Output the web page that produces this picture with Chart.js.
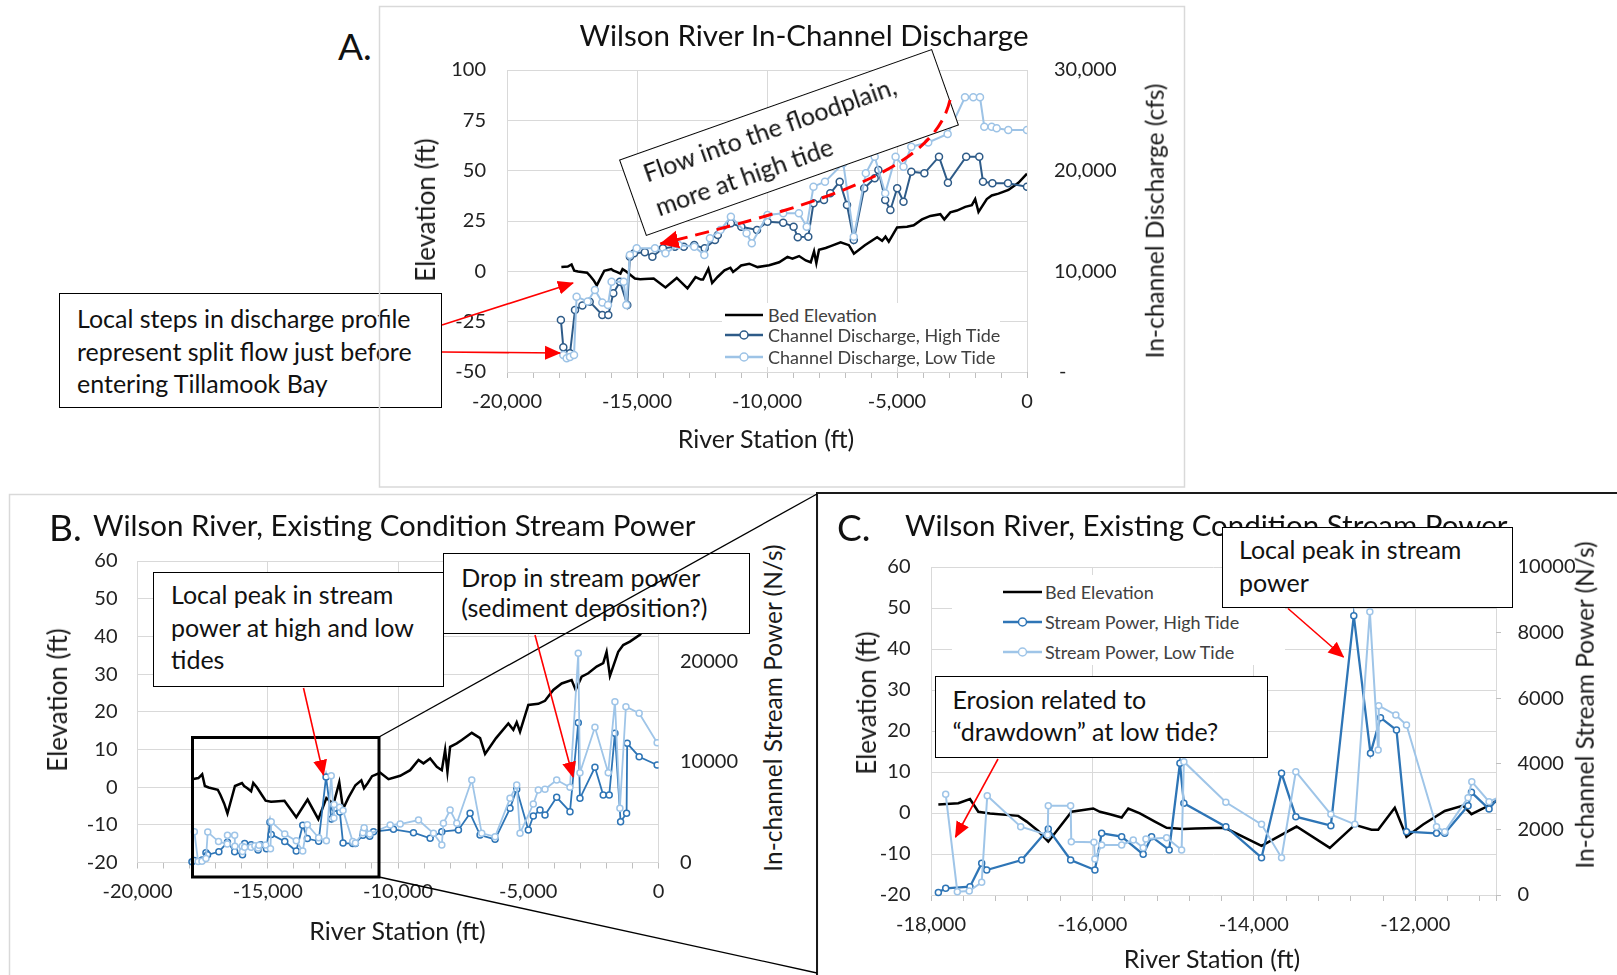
<!DOCTYPE html>
<html>
<head>
<meta charset="utf-8">
<script src="https://cdn.jsdelivr.net/npm/chart.js@4.4.1/dist/chart.umd.min.js"></script>
<style>
  html, body { margin: 0; padding: 0; background: #fff; }
  body { width: 1617px; height: 975px; position: relative; overflow: hidden; font-family: Lato, 'Open Sans', sans-serif; color: #111; }
  canvas.plot { position: absolute; z-index: 1; }
  .t { position: absolute; white-space: nowrap; line-height: 1; z-index: 2; }
  .c { transform: translateX(-50%); }
  .m { transform: translate(-50%, -50%); }
  .r { transform: translate(-50%, -50%) rotate(-90deg); }
  .ax { color: #1a1a1a; }
  .axl { font-size: 26px; }
  .axr { font-size: 24.5px; }
  .axb { font-size: 25px; }
  .ttl { font-size: 29.5px; }
  .box { position: absolute; box-sizing: border-box; background: #fff; border: 1.5px solid #000; font-size: 25px; white-space: nowrap; z-index: 2; color: #111; }
  .lgbg { position: absolute; background: #fff; z-index: 2; }
  .lg { position: absolute; display: flex; align-items: center; height: 20px; font-size: 18px; color: #404040; white-space: nowrap; z-index: 2; }
  .lg svg { display: block; }
  #ov { position: absolute; left: 0; top: 0; z-index: 3; pointer-events: none; }
</style>
</head>
<body>

<canvas id="chartA" class="plot" width="750" height="410" style="left:430px; top:30px;"></canvas>
<canvas id="chartB" class="plot" width="680" height="409" style="left:60px; top:521px;"></canvas>
<canvas id="chartC" class="plot" width="720" height="428" style="left:880px; top:527px;"></canvas>

<!-- A: in-channel discharge -->
<div class="t" style="left:338px; top:27px; font-size:37px;">A.</div>
<div class="t c ttl" style="left:804px; top:19.5px;">Wilson River In-Channel Discharge</div>
<div class="t r ax axl" style="left:425px; top:210px;">Elevation (ft)</div>
<div class="t r ax axr" style="left:1155px; top:221px;">In-channel Discharge (cfs)</div>
<div class="t m ax axb" style="left:766px; top:438px;">River Station (ft)</div>

<div class="lgbg" style="left:722px; top:303px; width:278px; height:64px;"></div>
<div class="lg" style="left:725px; top:304.5px;"><svg width="38" height="20"><line x1="0" y1="10" x2="38" y2="10" stroke="#000" stroke-width="2.5"/></svg><span style="margin-left:5px">Bed Elevation</span></div>
<div class="lg" style="left:725px; top:325px;"><svg width="38" height="20"><line x1="0" y1="10" x2="38" y2="10" stroke="#2e5b88" stroke-width="2.5"/><circle cx="19" cy="10" r="4" fill="#fff" stroke="#2e5b88" stroke-width="1.5"/></svg><span style="margin-left:5px">Channel Discharge, High Tide</span></div>
<div class="lg" style="left:725px; top:346.5px;"><svg width="38" height="20"><line x1="0" y1="10" x2="38" y2="10" stroke="#9dc3e6" stroke-width="2.5"/><circle cx="19" cy="10" r="4" fill="#fff" stroke="#9dc3e6" stroke-width="1.5"/></svg><span style="margin-left:5px">Channel Discharge, Low Tide</span></div>

<div class="box" style="left:59px; top:293px; width:383px; height:115px; padding:8px 0 0 17px; line-height:32.5px;">Local steps in discharge profile<br>represent split flow just before<br>entering Tillamook Bay</div>
<div class="box" style="left:622.9px; top:102px; width:332px; height:81px; padding:2px 0 0 18px; line-height:36px; transform:rotate(-19.5deg);">Flow into the floodplain,<br>more at high tide</div>

<!-- B: stream power, full reach -->
<div class="t" style="left:49px; top:508px; font-size:37px;">B.</div>
<div class="t ttl" style="left:93px; top:509.5px;">Wilson River, Existing Condition Stream Power</div>
<div class="t r ax axl" style="left:56.5px; top:700px;">Elevation (ft)</div>
<div class="t r ax axr" style="left:773px; top:708px;">In-channel Stream Power (N/s)</div>
<div class="t m ax axb" style="left:397.5px; top:930px;">River Station (ft)</div>

<div class="box" style="left:153px; top:572px; width:291px; height:115px; padding:5px 0 0 17px; line-height:32.5px;">Local peak in stream<br>power at high and low<br>tides</div>
<div class="box" style="left:443.3px; top:552.5px; width:307px; height:81.5px; padding:8.5px 0 0 17px; line-height:30px;">Drop in stream power<br>(sediment deposition?)</div>

<!-- C: stream power, lower reach -->
<div class="t" style="left:837px; top:508px; font-size:37px;">C.</div>
<div class="t ttl" style="left:905px; top:509.5px;">Wilson River, Existing Condition Stream Power</div>
<div class="t r ax axl" style="left:865.6px; top:703px;">Elevation (ft)</div>
<div class="t r ax axr" style="left:1585px; top:705px;">In-channel Stream Power (N/s)</div>
<div class="t m ax axb" style="left:1212px; top:958px;">River Station (ft)</div>

<div class="lgbg" style="left:952px; top:575px; width:333px; height:90px;"></div>
<div class="lg" style="left:1003px; top:581.7px;"><svg width="39" height="20"><line x1="0" y1="10" x2="39" y2="10" stroke="#000" stroke-width="2.5"/></svg><span style="margin-left:3px">Bed Elevation</span></div>
<div class="lg" style="left:1003px; top:611.7px;"><svg width="39" height="20"><line x1="0" y1="10" x2="39" y2="10" stroke="#2e75b6" stroke-width="2.5"/><circle cx="19.5" cy="10" r="4" fill="#fff" stroke="#2e75b6" stroke-width="1.5"/></svg><span style="margin-left:3px">Stream Power, High Tide</span></div>
<div class="lg" style="left:1003px; top:641.7px;"><svg width="39" height="20"><line x1="0" y1="10" x2="39" y2="10" stroke="#9fc5e8" stroke-width="2.5"/><circle cx="19.5" cy="10" r="4" fill="#fff" stroke="#9fc5e8" stroke-width="1.5"/></svg><span style="margin-left:3px">Stream Power, Low Tide</span></div>

<div class="box" style="left:1222px; top:527px; width:291px; height:81px; padding:5px 0 0 16px; line-height:32.6px;">Local peak in stream<br>power</div>
<div class="box" style="left:935px; top:676px; width:333px; height:82.3px; padding:5.5px 0 0 16.5px; line-height:32.3px;">Erosion related to<br>“drawdown” at low tide?</div>

<svg id="ov" width="1617" height="975">
  <defs>
    <marker id="ah" markerUnits="userSpaceOnUse" markerWidth="16" markerHeight="16" refX="15" refY="8" orient="auto">
      <path d="M0,1 L16,8 L0,15 z" fill="#ff0000"/>
    </marker>
    <marker id="ahBig" markerUnits="userSpaceOnUse" markerWidth="20" markerHeight="20" refX="18" refY="10" orient="auto">
      <path d="M0,1 L19,10 L0,19 z" fill="#ff0000"/>
    </marker>
  </defs>
  <!-- panel frames -->
  <rect x="379.5" y="6.5" width="805" height="480.5" fill="none" stroke="#d9d9d9" stroke-width="1.5"/>
  <rect x="9.5" y="494.5" width="808" height="490" fill="none" stroke="#d9d9d9" stroke-width="1.5"/>
  <rect x="817" y="493" width="830" height="520" fill="none" stroke="#1a1a1a" stroke-width="2"/>
  <!-- zoom window from B to C -->
  <rect x="192.5" y="737.5" width="186.5" height="139.5" fill="none" stroke="#000" stroke-width="3"/>
  <line x1="379" y1="737" x2="817" y2="494" stroke="#000" stroke-width="1.3"/>
  <line x1="379" y1="877" x2="817" y2="973" stroke="#000" stroke-width="1.3"/>
  <!-- callout arrows -->
  <g stroke="#ff0000" stroke-width="1.6" fill="none">
    <line x1="442" y1="325" x2="573" y2="283" marker-end="url(#ah)"/>
    <line x1="442" y1="352" x2="560" y2="353" marker-end="url(#ah)"/>
    <line x1="303.5" y1="688" x2="323.5" y2="775" marker-end="url(#ah)"/>
    <line x1="535" y1="635" x2="573" y2="777" marker-end="url(#ah)"/>
    <line x1="998" y1="759" x2="955.5" y2="837" marker-end="url(#ah)"/>
    <line x1="1288" y1="608.5" x2="1343.5" y2="657" marker-end="url(#ah)"/>
  </g>
  <path d="M950,100 C935,165 840,200 660.5,243.8" stroke="#ff0000" stroke-width="3" fill="none" stroke-dasharray="14 8" marker-end="url(#ahBig)"/>
</svg>

<script>
// bed profile [river station ft, elevation ft]
const bedProfile = [
  [-17909, 2.1], [-17662, 2.4], [-17517, 3.4], [-17414, 0.3], [-17269, -0.1], [-16919, -0.7],
  [-16815, -2.1], [-16671, -4.4], [-16547, -7.0], [-16444, -4.4], [-16258, 0.3], [-15990, 1.1],
  [-15907, 0.3], [-15783, -0.3], [-15638, -1.1], [-15556, 1.1], [-15412, -0.1], [-15226, -2.1],
  [-15081, -3.6], [-14876, -3.9], [-14720, -3.8], [-14359, -3.6], [-13905, -8.0], [-13471, -3.3],
  [-13059, -8.5], [-12749, -2.9], [-12542, -4.1], [-12460, -4.1], [-12254, 1.3], [-12109, -5.8],
  [-11903, -2.8], [-11635, 0.5], [-11408, 1.8], [-11304, -0.3], [-11160, 1.1], [-10995, 2.9],
  [-10683, 3.8], [-10364, 2.1], [-9916, 3.0], [-9533, 4.5], [-9213, 7.2], [-9022, 6.3],
  [-8766, 7.6], [-8510, 5.4], [-8318, 4.5], [-8191, 9.9], [-8102, 4.1], [-8000, 10.7],
  [-7743, 11.6], [-7551, 12.5], [-7168, 14.4], [-6849, 13.0], [-6657, 8.8], [-6236, 13.0],
  [-5764, 16.9], [-5572, 15.2], [-5443, 17.2], [-5316, 14.7], [-4997, 21.8], [-4614, 22.1],
  [-4357, 22.9], [-4039, 25.8], [-3717, 27.5], [-3334, 28.4], [-3180, 25.8], [-2950, 29.3],
  [-2697, 30.2], [-2375, 32.0], [-2122, 32.9], [-1993, 35.9], [-1865, 29.5], [-1546, 35.9],
  [-1355, 37.7], [-1098, 38.6], [-715, 40.4], [-330, 44.0], [0, 48.5]
];

// channel discharge (cfs)
const qHighTide = [
  [-17927, 5166], [-17834, 2451], [-17577, 1855], [-17385, 6159], [-17100, 6600], [-16819, 6987],
  [-16334, 5662], [-16103, 5662], [-15912, 7815], [-15654, 8974], [-15373, 6656], [-15273, 11457],
  [-15112, 11788], [-14700, 11900], [-14408, 11457], [-14004, 12285], [-13539, 12450], [-13200, 12450],
  [-12797, 12616], [-12396, 12285], [-12000, 13113], [-11893, 13610], [-11389, 14770], [-10988, 14437],
  [-10385, 14106], [-9981, 14935], [-9377, 14836], [-8977, 14437], [-8816, 13378], [-8412, 13444],
  [-8212, 16756], [-7808, 17086], [-7566, 17752], [-7204, 18910], [-6923, 16590], [-6662, 13113],
  [-6262, 18246], [-5858, 19240], [-5716, 20067], [-5454, 17086], [-5254, 16093], [-4993, 18246],
  [-4750, 16921], [-4450, 19898], [-3947, 19737], [-3385, 21390], [-3042, 18810], [-2339, 21390],
  [-1835, 21390], [-1693, 18910], [-1331, 18745], [-731, 18745], [0, 18410]
];
const qLowTide = [
  [-17834, 1700], [-17704, 1360], [-17577, 1500], [-17423, 1689], [-17323, 7480], [-16900, 7000],
  [-16619, 8146], [-16334, 6900], [-16116, 6656], [-15977, 8974], [-15512, 8974], [-15412, 6656],
  [-15273, 11623], [-15012, 12285], [-14308, 12285], [-13904, 11788], [-13400, 12616], [-12797, 12450],
  [-12411, 11623], [-12196, 13279], [-11793, 14106], [-11389, 15432], [-10785, 13776], [-10585, 12782],
  [-9981, 15597], [-9377, 15763], [-8773, 15763], [-8473, 14437], [-8212, 18410], [-7770, 18910],
  [-7066, 20730], [-6662, 13444], [-6200, 19737], [-5858, 21390], [-5454, 17752], [-5054, 21390],
  [-4750, 20398], [-4450, 22383], [-3800, 22800], [-3052, 23643], [-2385, 27289], [-2066, 27289],
  [-1808, 27289], [-1643, 24368], [-1359, 24368], [-1167, 24210], [-721, 24040], [0, 24040]
];

// in-channel stream power (N/s)
const spHighTide = [
  [-17909, 80], [-17818, 204], [-17517, 254], [-17372, 967], [-17310, 762], [-16877, 1067],
  [-16547, 2012], [-16270, 1067], [-15969, 762], [-15886, 1881], [-15638, 1778], [-15371, 1240],
  [-15267, 1778], [-15049, 1372], [-14916, 4015], [-14867, 2796], [-14347, 2083], [-13905, 1138],
  [-13657, 3710], [-13480, 2388], [-13046, 2114], [-12762, 8516], [-12555, 4320], [-12431, 5406],
  [-12233, 5031], [-12109, 1931], [-11737, 1881], [-11635, 1881], [-11346, 2723], [-11304, 3131],
  [-11086, 2622], [-10940, 3065], [-10173, 3300], [-9406, 2965], [-8766, 2408], [-8318, 3065],
  [-7680, 3234], [-7233, 4895], [-6849, 2736], [-6274, 2308], [-5700, 5393], [-5443, 7283],
  [-4997, 3234], [-4806, 4627], [-4549, 5224], [-4357, 4726], [-3909, 6487], [-3398, 5055],
  [-3080, 13910], [-3015, 6388], [-2440, 9472], [-2122, 6716], [-1892, 6716], [-1673, 12855],
  [-1455, 4060], [-1225, 4895], [-1202, 11860], [-742, 10527], [-52, 9701]
];
const spLowTide = [
  [-17818, 3070], [-17674, 100], [-17526, 122], [-17372, 387], [-17303, 3028], [-16889, 2083],
  [-16555, 1829], [-16547, 2723], [-16270, 2723], [-16262, 1626], [-15981, 1606], [-15969, 1098],
  [-15886, 1525], [-15638, 1525], [-15494, 1677], [-15371, 1443], [-15337, 1707], [-15081, 1748],
  [-14895, 1372], [-14867, 4065], [-14347, 2826], [-13905, 2154], [-13657, 1138], [-13480, 3760],
  [-13046, 2460], [-12749, 2154], [-12563, 8638], [-12460, 4421], [-12453, 5772], [-12241, 5488],
  [-12109, 5183], [-11737, 2083], [-11635, 1931], [-11346, 2967], [-11300, 3455], [-11086, 2845],
  [-10300, 3730], [-9916, 3830], [-9213, 4229], [-8638, 2905], [-8318, 1741], [-8256, 3900],
  [-8000, 5224], [-7743, 3900], [-7168, 8209], [-6785, 2905], [-6274, 2567], [-5700, 6388],
  [-5443, 7711], [-5316, 2905], [-4806, 5821], [-4614, 7214], [-4357, 7283], [-3909, 8209],
  [-3398, 7482], [-3080, 20815], [-3015, 8935], [-2440, 13450], [-1930, 8935], [-1673, 16000],
  [-1482, 5393], [-1251, 15500], [-742, 14845], [-52, 11920]
];

Chart.defaults.font.family = "Lato, 'Open Sans', sans-serif";
Chart.defaults.color = '#222';

const GRID = '#d9d9d9';
const TICK_FONT = { size: 20 };
const xy = pairs => pairs.map(([x, y]) => ({ x, y }));
const clipArea = { left: 5, top: 5, right: 0, bottom: 5 };

// river station axis: labels on major steps, small marks on minor steps
function stationAxis(min, max, minor, major, height, pad) {
  return {
    type: 'linear', min, max,
    afterBuildTicks: axis => {
      const t = [];
      for (let v = min; v <= max; v += minor) t.push({ value: v });
      if (t[t.length - 1].value < max) t.push({ value: max });
      axis.ticks = t;
    },
    ticks: {
      autoSkip: false, maxRotation: 0, minRotation: 0, padding: pad, font: TICK_FONT,
      callback: v => (v % major === 0) ? v.toLocaleString('en-US') : ''
    },
    grid: {
      color: c => (c.tick && (c.tick.value % major === 0 || c.tick.value === max)) ? GRID : 'rgba(0,0,0,0)',
      tickColor: '#bfbfbf', tickLength: 6
    },
    border: { display: false },
    afterFit: s => { s.height = height; }
  };
}

function elevAxis(min, max, step, width, pad) {
  return {
    type: 'linear', position: 'left', min, max,
    ticks: { stepSize: step, padding: pad, font: TICK_FONT },
    grid: { color: GRID, drawTicks: false },
    border: { display: false },
    afterFit: s => { s.width = width; }
  };
}

function rightAxis(max, step, width, pad, fmt, tickLen) {
  return {
    type: 'linear', position: 'right', min: 0, max,
    ticks: { stepSize: step, padding: pad, font: TICK_FONT, callback: fmt },
    grid: { drawOnChartArea: false, drawTicks: tickLen > 0, tickLength: tickLen, color: '#bfbfbf' },
    border: { display: false },
    afterFit: s => { s.width = width; }
  };
}

function bedSet(width) {
  return {
    label: 'Bed Elevation', data: xy(bedProfile), yAxisID: 'y',
    borderColor: '#000', borderWidth: width, pointRadius: 0, order: 3, clip: clipArea
  };
}

function markedSet(label, pairs, color, width, radius, order) {
  return {
    label, data: xy(pairs), yAxisID: 'y2',
    borderColor: color, borderWidth: width,
    pointRadius: radius, pointBackgroundColor: '#fff', pointBorderColor: color, pointBorderWidth: 1.5,
    order, clip: clipArea
  };
}

// top padding stays above the axes' own label padding so the plot top is fixed
function riverChart(id, datasets, scales) {
  return new Chart(document.getElementById(id), {
    type: 'line',
    data: { datasets },
    options: {
      responsive: false, animation: false, devicePixelRatio: 1, events: [],
      layout: { padding: { top: 40, left: 0, right: 0, bottom: 0 } },
      elements: { line: { tension: 0 } },
      plugins: { legend: { display: false }, tooltip: { enabled: false } },
      scales
    }
  });
}

// A. discharge
riverChart('chartA', [
  bedSet(2.5),
  markedSet('Channel Discharge, High Tide', qHighTide, '#2e5b88', 2, 3.5, 2),
  markedSet('Channel Discharge, Low Tide', qLowTide, '#9dc3e6', 2, 3.5, 1)
], {
  x: stationAxis(-20000, 0, 1000, 5000, 68, 12),
  y: elevAxis(-50, 100, 25, 77, 21),
  y2: rightAxis(30000, 10000, 153, 27, v => v === 0 ? ' -' : v.toLocaleString('en-US'), 0)
});

// B. stream power, whole reach
riverChart('chartB', [
  bedSet(2.5),
  markedSet('Stream Power, High Tide', spHighTide, '#2e75b6', 1.8, 3, 2),
  markedSet('Stream Power, Low Tide', spLowTide, '#9fc5e8', 1.8, 3, 1)
], {
  x: stationAxis(-20000, 0, 1000, 5000, 67.5, 11),
  y: elevAxis(-20, 60, 10, 77.5, 20),
  y2: rightAxis(30000, 10000, 81.5, 21.5, v => String(v), 0)
});

// C. stream power, lower reach
riverChart('chartC', [
  bedSet(2.5),
  markedSet('Stream Power, High Tide', spHighTide, '#2e75b6', 2.3, 3, 2),
  markedSet('Stream Power, Low Tide', spLowTide, '#9fc5e8', 2, 3, 1)
], {
  x: stationAxis(-18000, -11000, 400, 2000, 60, 12),
  y: elevAxis(-20, 60, 10, 51, 20.5),
  y2: rightAxis(10000, 2000, 104, 16.5, v => String(v), 5)
});
</script>
</body>
</html>
